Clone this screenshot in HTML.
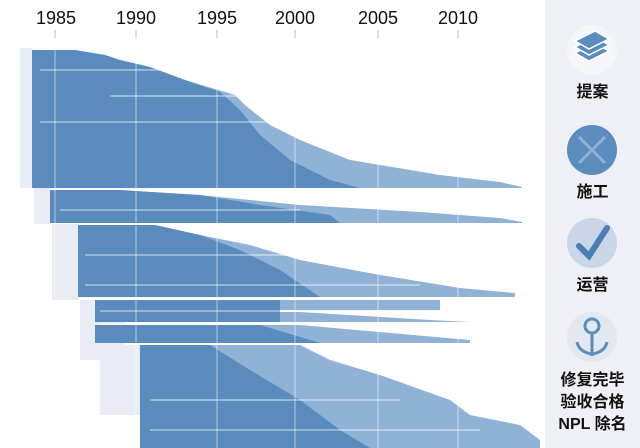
<!DOCTYPE html>
<html><head><meta charset="utf-8"><style>
body{margin:0;width:640px;height:448px;overflow:hidden;background:#fff;font-family:"Liberation Sans","Noto Sans CJK SC",sans-serif}
.side{position:absolute;left:545px;top:0;width:95px;height:448px;background:#eef0f6}
.lab{position:absolute;width:95px;text-align:center;font-size:16px;color:#111;line-height:22px;font-weight:bold}
.ic{position:absolute;left:22px;width:50px;height:50px;border-radius:50%}
</style></head><body>
<svg width="545" height="448" style="position:absolute;left:0;top:0">
<g font-size="18" fill="#111" text-anchor="middle" font-family="Liberation Sans,sans-serif">
<text x="56" y="24">1985</text><text x="136" y="24">1990</text><text x="217" y="24">1995</text><text x="295" y="24">2000</text><text x="378" y="24">2005</text><text x="458" y="24">2010</text></g>
<g stroke="#bbb" stroke-width="1"><line x1="55" y1="30" x2="55" y2="38"/><line x1="136" y1="30" x2="136" y2="38"/><line x1="217" y1="30" x2="217" y2="38"/><line x1="295" y1="30" x2="295" y2="38"/><line x1="378" y1="30" x2="378" y2="38"/><line x1="458" y1="30" x2="458" y2="38"/></g>
<g fill="#e9ecf4">
<rect x="20" y="48" width="12" height="140"/><rect x="34" y="188" width="16" height="36"/><rect x="52" y="224" width="26" height="76"/><rect x="80" y="300" width="45" height="60"/><rect x="100" y="345" width="40" height="70"/>
</g>
<g fill="#8fb2d6">
<polygon points="32,50 75,50 105,55 120,60 150,67 185,80 235,95 245,105 270,125 300,140 350,160 440,175 500,182 522,187 522,188 32,188"/>
<polygon points="50,190 120,190 200,195 300,205 420,212 500,218 522,222 522,223 50,223"/>
<polygon points="78,225 155,225 200,235 250,245 300,260 380,275 460,288 515,293 515,297 78,297"/>
<polygon points="95,300 440,300 440,310 95,310"/>
<polygon points="95,312 300,312 430,320 470,322 95,322"/>
<polygon points="95,325 300,325 470,340 470,343 95,343"/>
<polygon points="140,345 300,345 330,360 380,375 450,400 470,415 520,425 540,440 540,448 140,448"/>
</g>
<g fill="#5a8bbd">
<polygon points="32,50 75,50 105,55 120,60 150,67 185,80 220,92 240,110 260,135 290,160 330,180 360,188 32,188"/>
<polygon points="50,190 120,190 200,195 260,205 330,215 340,223 50,223"/>
<polygon points="78,225 155,225 200,235 240,250 280,270 320,297 78,297"/>
<polygon points="95,300 280,300 280,322 95,322"/>
<polygon points="95,325 260,325 320,343 95,343"/>
<polygon points="140,345 210,345 250,370 300,400 340,430 370,448 140,448"/>
</g>
<g stroke="#fff" stroke-opacity=".5" stroke-width="1.5">
<line x1="40" y1="70" x2="330" y2="70"/><line x1="40" y1="122" x2="400" y2="122"/><line x1="110" y1="96" x2="345" y2="96"/><line x1="60" y1="210" x2="300" y2="210"/><line x1="85" y1="255" x2="360" y2="255"/><line x1="85" y1="285" x2="420" y2="285"/><line x1="100" y1="311" x2="440" y2="311"/><line x1="100" y1="324" x2="470" y2="324"/><line x1="150" y1="400" x2="400" y2="400"/><line x1="150" y1="430" x2="480" y2="430"/>
</g>
<g stroke="#fff" stroke-opacity=".55" stroke-width="1"><line x1="55" y1="50" x2="55" y2="448"/><line x1="136" y1="50" x2="136" y2="448"/><line x1="217" y1="50" x2="217" y2="448"/><line x1="295" y1="50" x2="295" y2="448"/><line x1="378" y1="50" x2="378" y2="448"/><line x1="458" y1="50" x2="458" y2="448"/></g>
</svg>
<div class="side">
<div class="ic" style="top:25px;background:#f4f6fa"><svg width="50" height="50"><g fill="#5b8cbe" stroke="#fff" stroke-width="1.5"><polygon points="8,28 28,18 42,26 22,36"/><polygon points="8,22 28,12 42,20 22,30"/><polygon points="8,16 28,6 42,14 22,24"/></g></svg></div>
<div class="lab" style="top:82px">提案</div>
<div class="ic" style="top:125px;background:#5b8cbe"><svg width="50" height="50"><g stroke="#8fb2d6" stroke-width="3"><line x1="12" y1="12" x2="38" y2="38"/><line x1="38" y1="12" x2="12" y2="38"/></g></svg></div>
<div class="lab" style="top:182px">施工</div>
<div class="ic" style="top:218px;background:#c9d6e8"><svg width="50" height="50"><path d="M12 28 L22 38 L40 10" stroke="#4a7fb5" stroke-width="6" fill="none" stroke-linecap="round"/></svg></div>
<div class="lab" style="top:275px">运营</div>
<div class="ic" style="top:312px;background:#e2e7f0"><svg width="50" height="50"><g stroke="#5b8cbe" stroke-width="3" fill="none"><circle cx="25" cy="14" r="7"/><line x1="25" y1="21" x2="25" y2="44"/><path d="M25 42 Q12 40 10 30"/><path d="M25 42 Q38 40 40 30"/></g></svg></div>
<div class="lab" style="top:370px">修复完毕<br>验收合格<br>NPL 除名</div>
</div>
</body></html>
